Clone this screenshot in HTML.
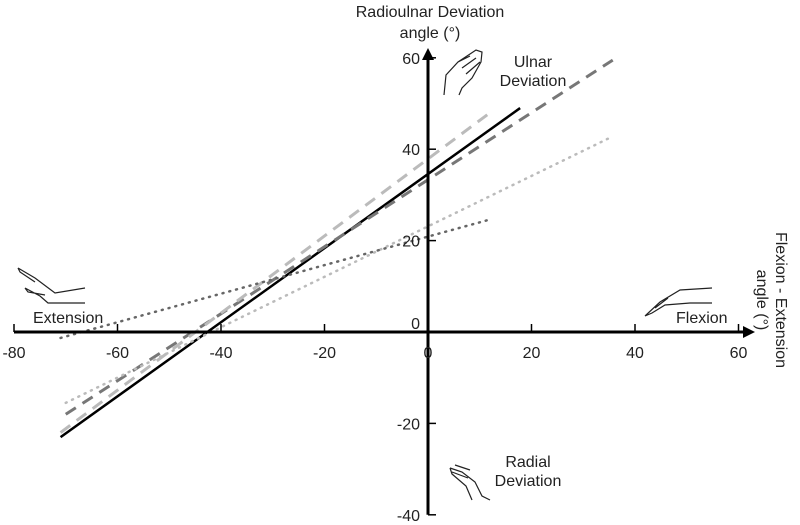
<!DOCTYPE html>
<html><head><meta charset="utf-8"><style>
html,body{margin:0;padding:0;background:#fff;}
svg{display:block;font-family:"Liberation Sans",sans-serif;}
</style></head><body>
<svg id="chart" width="800" height="525" viewBox="0 0 800 525">
<g id="series-layer"></g>
<g id="axes-layer"></g>
<g font-size="16" fill="#222">
<text x="430" y="17" text-anchor="middle">Radioulnar Deviation</text>
<text x="430" y="38" text-anchor="middle">angle (°)</text>
<text x="533" y="67" text-anchor="middle">Ulnar</text>
<text x="533" y="86" text-anchor="middle">Deviation</text>
<text x="33" y="323">Extension</text>
<text x="676" y="323">Flexion</text>
<text x="528" y="467" text-anchor="middle">Radial</text>
<text x="528" y="486" text-anchor="middle">Deviation</text>
<text transform="translate(776,300) rotate(90)" text-anchor="middle">Flexion - Extension</text>
<text transform="translate(757,300) rotate(90)" text-anchor="middle">angle (°)</text>
</g>
<g fill="none" stroke="#222" stroke-width="1.2">
<path d="M444 95 L446 75 L458 62 L476 50 L482 52 L481 62 L472 78 L462 88 L459 95 M458 62 L470 56 M462 68 L476 58 M466 74 L480 62"/>
<path d="M18 268 L35 278 L55 293 L85 288 M18 268 L20 272 L35 282 M25 288 L40 296 L48 303 L85 303 M25 288 L28 292 L45 295"/>
<path d="M645 316 L660 302 L680 290 L712 288 M645 316 L652 313 L665 305 L690 303 L712 303 M655 308 L668 298"/>
<path d="M450 468 L462 472 L475 482 L482 496 L490 500 M450 468 L452 474 L466 486 L472 500 M455 465 L470 470 M452 472 L468 478"/>
</g>
<script>
const xTicks=[-80,-60,-40,-20,0,20,40,60];
const yTicks=[60,40,20,-20,-40];
const seriesNames=['black-solid','dark-dashed','light-dashed','light-dotted','dark-dotted'];
const seriesX0=[-71,-70,-71,-70,-71];
const seriesY0=[-23,-18,-22,-15.5,-1.3];
const seriesX1=[17.8,35.7,12,35.5,11.6];
const seriesY1=[49,59.5,48,42.7,24.5];
const styles=[
 {c:'#000',w:2.5,d:''},
 {c:'#777',w:3,d:'12,8'},
 {c:'#bbb',w:3,d:'12,8'},
 {c:'#bbb',w:2.5,d:'1,6'},
 {c:'#666',w:2.5,d:'1,6'}];
const X=v=>428+v*103.5/20;
const Y=v=>332-v*4.57;
const NS='http://www.w3.org/2000/svg';
const sl=document.getElementById('series-layer');
const ax=document.getElementById('axes-layer');
function mk(tag,attrs,parent){const e=document.createElementNS(NS,tag);for(const k in attrs)e.setAttribute(k,attrs[k]);parent.appendChild(e);return e;}
seriesNames.forEach((n,i)=>{
 const s=styles[i];
 const l=mk('line',{x1:X(seriesX0[i]),y1:Y(seriesY0[i]),x2:X(seriesX1[i]),y2:Y(seriesY1[i]),stroke:s.c,'stroke-width':s.w,'stroke-dasharray':s.d,'stroke-linecap':s.d.startsWith('1,')?'round':'butt'},sl);
 
 
});
let a=mk('line',{x1:X(-80),y1:Y(0),x2:745,y2:Y(0),stroke:'#000','stroke-width':3},ax);


a=mk('polygon',{points:`755,${Y(0)} 743,${Y(0)-6} 743,${Y(0)+6}`,fill:'#000'},ax);


a=mk('line',{x1:X(0),y1:Y(-40),x2:X(0),y2:58,stroke:'#000','stroke-width':3},ax);


a=mk('polygon',{points:`${X(0)},48 ${X(0)-6},60 ${X(0)+6},60`,fill:'#000'},ax);


xTicks.forEach(t=>{
 const tk=mk('line',{x1:X(t),y1:Y(0)-8,x2:X(t),y2:Y(0),stroke:'#000','stroke-width':1.5},ax);
 
 
 const tx=mk('text',{x:X(t),y:Y(0)+26,'text-anchor':'middle','font-size':16,fill:'#222'},ax);
 tx.textContent=t;
 
 
});
yTicks.forEach(t=>{
 const tk=mk('line',{x1:X(0),y1:Y(t),x2:X(0)+8,y2:Y(t),stroke:'#000','stroke-width':1.5},ax);
 
 
 const tx=mk('text',{x:X(0)-8,y:Y(t)+6,'text-anchor':'end','font-size':16,fill:'#222'},ax);
 tx.textContent=t;
 
 
});
const z=mk('text',{x:X(0)-8,y:Y(0)-3,'text-anchor':'end','font-size':16,fill:'#222'},ax);
z.textContent='0';


</script>
</svg>
</body></html>
